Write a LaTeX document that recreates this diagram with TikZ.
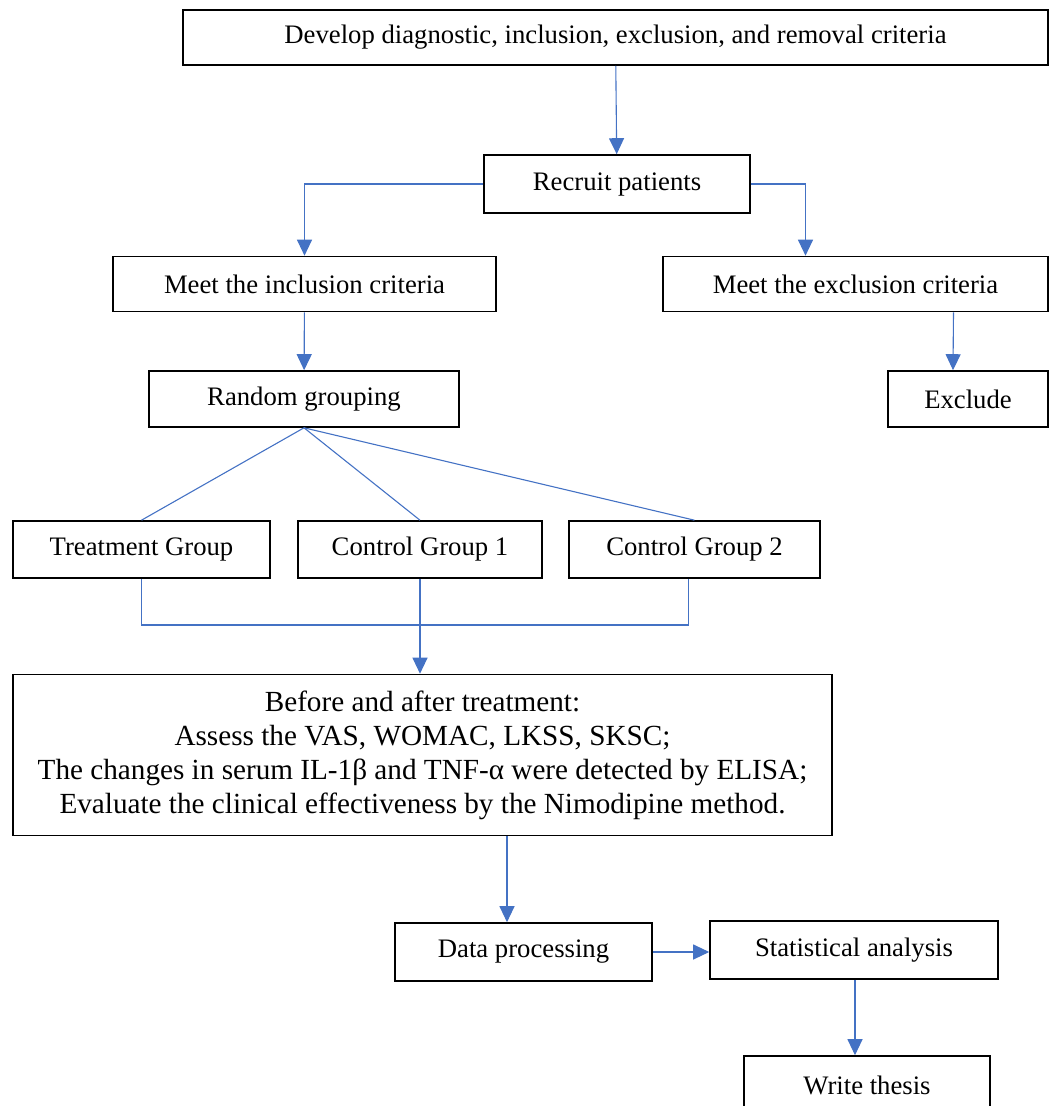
\documentclass[tikz,border=0pt]{standalone}
\usepackage{fontspec}
\setmainfont{Liberation Serif}
\usetikzlibrary{arrows.meta, positioning}
\definecolor{linkblue}{RGB}{68,114,196}
\tikzset{
  box/.style={draw, line width=1.6pt, fill=white, align=center, inner sep=0pt,
    minimum height=56pt, font=\fontsize{26.7}{34}\selectfont},
  link/.style={color=linkblue, line width=1.1pt},
  tip/.style={-{Triangle[length=16pt,width=15pt]}}
}

\begin{document}
\begin{tikzpicture}[x=1pt,y=-1pt]
		\useasboundingbox (0,0) rectangle (1049,1106);
		\clip (0,0) rectangle (1049,1106);

		\node[box, minimum width=865pt, minimum height=55pt] (0) at (615.5,37.5) {Develop diagnostic, inclusion, exclusion, and removal criteria};
		\node[box, minimum width=266pt, minimum height=58pt] (1) at (617,184)    {Recruit patients};
		\node[box, minimum width=383pt, minimum height=55pt] (2) at (304.5,284) {Meet the inclusion criteria};
		\node[box, minimum width=385pt, minimum height=55pt] (3) at (855.5,284) {Meet the exclusion criteria};
		\node[box, minimum width=310pt] (4) at (304,399)   {Random grouping};
		\node[box, minimum width=160pt] (5) at (968,399)   {Exclude};
		\node[box, minimum width=257pt, minimum height=57pt] (6) at (141.5,549.5) {Treatment Group};
		\node[box, minimum width=244pt, minimum height=57pt] (7) at (420,549.5)   {Control Group 1};
		\node[box, minimum width=251pt, minimum height=57pt] (8) at (694.5,549.5) {Control Group 2};
		\node[box, minimum width=819pt, minimum height=161pt, font=\fontsize{29.2}{34}\selectfont] (9) at (422.5,755)
			{Before and after treatment:\\Assess the VAS, WOMAC, LKSS, SKSC;\\The changes in serum IL-1β and TNF-α were detected by ELISA;\\Evaluate the clinical effectiveness by the Nimodipine method.};
		\node[box, minimum width=257pt, minimum height=58pt] (10) at (523.5,952) {Data processing};
		\node[box, minimum width=288pt, minimum height=58pt] (11) at (854,950)   {Statistical analysis};
		\node[box, minimum width=246pt, minimum height=58pt] (12) at (867,1085)  {Write thesis};

		\coordinate (j) at (420,625);

		\path[link] (0) edge[tip] (1);
		\path[link] (1.west) edge [tip, to path={-| (\tikztotarget)}] (2.north);
		\path[link] (1.east) edge [tip, to path={-| (\tikztotarget)}] ([xshift=-50pt]3.north);
		\path[link] (2) edge[tip] (4);
		\path[link] ([xshift=98pt]3.south) edge[tip] ([xshift=-15pt]5.north);
		\path[link] (4.south) edge (6.north) edge (7.north) edge (8.north);
		\path[link] (6.south) edge [to path={|- (\tikztotarget)}] (j);
		\path[link] ([xshift=-6pt]8.south) edge [to path={|- (\tikztotarget)}] (j);
		\path[link] (7.south) edge[tip] ([xshift=-2.5pt]9.north);
		\path[link] ([xshift=84.5pt]9.south) edge[tip] ([xshift=-16.5pt]10.north);
		\path[link] (10.east) edge[tip] (10.east -| 11.west);
		\path[link] ([xshift=1pt]11.south) edge[tip] ([xshift=-12pt]12.north);
	\end{tikzpicture}
\end{document}
